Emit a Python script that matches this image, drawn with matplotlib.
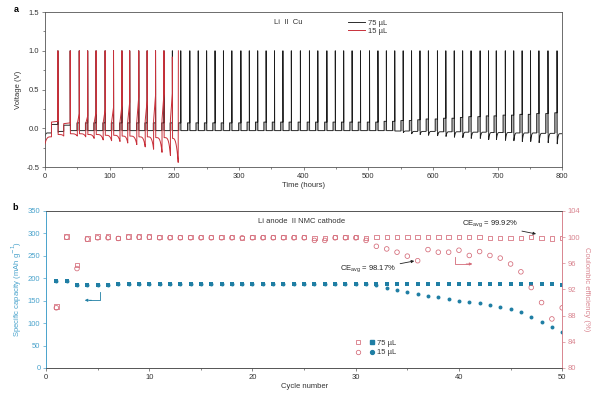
import numpy as np
import matplotlib.pyplot as plt
from matplotlib.lines import Line2D
from matplotlib.legend_handler import HandlerTuple
from matplotlib.ticker import MultipleLocator

plt.rcParams['font.family'] = ['Liberation Sans', 'DejaVu Sans']
plt.rcParams['font.size'] = 5.5
plt.rcParams['axes.linewidth'] = 0.6

# ---------------- panel a : Li || Cu voltage profiles ----------------
# spike (end of stripping) times, hours
t_spike_75 = [20, 39, 53, 66, 79, 93, 106, 119, 131, 145, 158, 171, 184, 197, 210,
              224, 237, 250, 263, 276, 289, 303, 316, 329, 342, 355, 368, 381, 395,
              409, 422, 436, 449, 462, 475, 488, 502, 515, 528, 541, 554, 567, 580,
              593, 607, 620, 633, 646, 659, 673, 686, 698, 712, 725, 738, 751, 764,
              778, 792]
# stripping plateau before each spike (V)
strip_75 = [0.05, 0.04,
            0.07, 0.07, 0.07, 0.07, 0.07, 0.07, 0.07, 0.07, 0.07, 0.07, 0.07, 0.07,
            0.07, 0.07, 0.07, 0.07, 0.07, 0.07, 0.07, 0.07, 0.08, 0.08, 0.08, 0.08,
            0.08, 0.08, 0.08, 0.08, 0.08, 0.08, 0.08, 0.08, 0.08, 0.08, 0.08,
            0.08, 0.09, 0.09, 0.10, 0.10, 0.11, 0.12, 0.12, 0.13, 0.13, 0.14, 0.15,
            0.15, 0.16, 0.16, 0.17, 0.17, 0.18, 0.18, 0.19, 0.19, 0.20]
# plating level of each segment (segment 0 starts at t=0, last one is the tail)
plate_75 = [-0.06, -0.04,
            -0.03, -0.03, -0.03, -0.03, -0.03, -0.03, -0.03, -0.03, -0.03, -0.03,
            -0.03, -0.03, -0.03, -0.03, -0.03, -0.03, -0.03, -0.03, -0.03, -0.03,
            -0.03, -0.03, -0.03, -0.03, -0.03, -0.03, -0.03, -0.03, -0.03, -0.03,
            -0.03, -0.03, -0.03, -0.03, -0.03, -0.03, -0.03, -0.03,
            -0.035, -0.035, -0.04, -0.04, -0.04, -0.045, -0.045, -0.045, -0.05, -0.05,
            -0.05, -0.055, -0.055, -0.055, -0.06, -0.06, -0.06, -0.065, -0.065, -0.07]
# nucleation dip depth at the start of each plating segment (V)
dip_75 = [0.04, 0.01,
          0, 0, 0, 0, 0, 0, 0, 0, 0, 0, 0, 0, 0, 0, 0, 0, 0, 0, 0, 0, 0, 0, 0, 0,
          0, 0, 0, 0, 0, 0, 0, 0, 0, 0, 0, 0, 0, 0, 0,
          0.02, 0.03, 0.04, 0.05, 0.05, 0.06, 0.07, 0.07, 0.08, 0.08, 0.09, 0.09,
          0.10, 0.10, 0.11, 0.11, 0.12, 0.12, 0.13]

t_spike_15 = [20, 39, 53, 66, 79, 93, 106, 119, 131, 145, 158, 171, 184, 197]
peak_15 = [1.0, 1.0, 1.0, 1.0, 1.0, 1.0, 1.0, 1.0, 1.0, 1.0, 1.0, 1.0, 1.0, 0.92]
strip_lo_15 = [0.08, 0.06, 0.06, 0.06, 0.07, 0.07, 0.08, 0.08, 0.09, 0.09, 0.10, 0.10, 0.11, 0.11]
strip_hi_15 = [0.09, 0.07, 0.19, 0.16, 0.21, 0.24, 0.27, 0.30, 0.34, 0.41, 0.36, 0.43, 0.45, 0.45]
plate_start_15 = [-0.20, -0.08, -0.07, -0.07, -0.08, -0.08, -0.09, -0.09, -0.10, -0.10,
                  -0.11, -0.11, -0.12, -0.12, -0.13]
plate_end_15 = [-0.11, -0.10, -0.10, -0.11, -0.13, -0.15, -0.16, -0.17, -0.19, -0.21,
                -0.24, -0.27, -0.31, -0.35, -0.44]
end_15 = 206

# ---------------- panel b : Li || NMC cycling ----------------
cycles = np.arange(1, 51)
cap_75 = [193, 193, 186, 186, 186, 186, 187, 187, 187, 187, 188, 188, 188, 188, 188,
          188, 188, 188, 188, 188, 188, 188, 188, 188, 188, 188, 188, 188, 188, 188,
          188, 188, 188, 188, 188, 188, 188, 188, 188, 188, 188, 187, 187, 187, 187,
          187, 187, 187, 187, 186]
cap_15 = [193, 193, 186, 186, 186, 186, 187, 187, 187, 187, 188, 188, 188, 188, 188,
          188, 188, 188, 188, 188, 188, 188, 188, 188, 188, 188, 188, 188, 188, 188,
          187, 184, 179, 174, 170, 164, 161, 158, 154, 150, 147, 144, 141, 137, 131,
          124, 114, 103, 91, 81]
ce_75 = [89.4, 100.1, 95.7, 99.8, 100.1, 100.1, 99.9, 100.1, 100.1, 100.1, 100.0, 100.0,
         100.0, 100.0, 100.0, 100.0, 100.0, 100.0, 99.9, 100.0, 100.0, 100.0, 100.0, 100.0,
         100.0, 99.9, 99.9, 100.0, 100.0, 100.0, 99.9, 100.0, 100.0, 100.0, 100.0, 100.0,
         100.0, 100.0, 100.0, 100.0, 100.0, 100.0, 99.9, 99.9, 99.9, 99.9, 100.0, 99.9,
         99.8, 99.9]
ce_15 = [89.2, 100.0, 95.2, 99.7, 99.9, 99.9, 99.8, 100.0, 100.0, 100.0, 99.9, 99.9,
         99.9, 99.9, 99.9, 99.9, 99.9, 99.9, 99.9, 99.9, 99.9, 99.9, 99.9, 99.9,
         99.9, 99.5, 99.5, 99.9, 99.9, 99.9, 99.5, 98.6, 98.2, 97.7, 97.1, 96.4,
         98.1, 97.7, 97.7, 98.0, 97.2, 97.8, 97.2, 96.8, 95.9, 94.7, 92.3, 90.0,
         87.5, 89.2]

black = '#1c1c1c'
red = '#c8303a'
blue = '#1f7ea4'
blue_txt = '#4aa3cc'
pink = '#d46a78'
pink_txt = '#d98590'
grey_txt = '#333333'

fig = plt.figure(figsize=(6, 3.94), dpi=100)
ax1 = fig.add_axes([0.075, 0.576, 0.862, 0.3935])
ax2 = fig.add_axes([0.0767, 0.066, 0.8603, 0.3985])

# --- build the 75 uL trace from the per-cycle values
s = np.linspace(0, 1, 12)
bt, bv = [], []
t0 = 0.0
for i, ts in enumerate(t_spike_75):
    w = 10 if i < 2 else 3.5
    tst = ts - w
    p, d = plate_75[i], dip_75[i]
    bt += list(t0 + s * min(4, tst - t0)) + [tst, tst, ts, ts]
    bv += list(p - d * (1 - s) ** 3) + [p, strip_75[i], strip_75[i], 1.0]
    if i >= 2:
        ax1.fill_between([tst, ts], p, strip_75[i], color='#b4b4b4', lw=0, zorder=1)
    t0 = ts + 0.3
p, d = plate_75[-1], dip_75[-1]
bt += list(t0 + s * min(4, 800 - t0)) + [800]
bv += list(p - d * (1 - s) ** 3) + [p]
ax1.plot(bt, bv, color=black, lw=0.65, zorder=2, label='75 µL')

# --- build the 15 uL trace
s2 = np.linspace(0, 1, 30)
rt, rv = [], []
t0 = 0.0
for i, ts in enumerate(t_spike_15):
    w = 10 if i < 2 else 3
    tst = ts - w
    a, b = plate_start_15[i], plate_end_15[i]
    if i == 0:
        seg = b + (a - b) * (1 - s2) ** 4
    else:
        seg = a + (b - a) * s2 ** 4
    rt += list(t0 + s2 * (tst - t0)) + [tst, ts, ts]
    rv += list(seg) + [strip_lo_15[i], strip_hi_15[i], peak_15[i]]
    t0 = ts + 0.3
a, b = plate_start_15[-1], plate_end_15[-1]
rt += list(t0 + s2 * (end_15 - t0)) + [end_15 + 0.3]
rv += list(a + (b - a) * s2 ** 3) + [1.0]
ax1.plot(rt, rv, color=red, lw=0.7, zorder=3, label='15 µL')

ax1.set_xlim(0, 800)
ax1.set_ylim(-0.5, 1.5)
ax1.xaxis.set_major_locator(MultipleLocator(100))
ax1.xaxis.set_minor_locator(MultipleLocator(50))
ax1.yaxis.set_major_locator(MultipleLocator(0.5))
ax1.yaxis.set_minor_locator(MultipleLocator(0.25))
ax1.yaxis.set_major_formatter(plt.FormatStrFormatter('%.1f'))
ax1.tick_params(which='both', direction='out', width=0.5, colors='#555555',
                labelcolor=grey_txt, pad=1.5)
ax1.tick_params(which='major', length=2.5)
ax1.tick_params(which='minor', length=1.5)
ax1.set_xlabel('Time (hours)', color=grey_txt, labelpad=2)
ax1.set_ylabel('Voltage (V)', color=grey_txt, labelpad=3)
for sp in ax1.spines.values():
    sp.set_color('#555555')
ax1.text(0.47, 0.93, 'Li  II  Cu', transform=ax1.transAxes, ha='center', va='center',
         color=grey_txt)
ax1.legend(loc='upper left', bbox_to_anchor=(0.578, 0.975), frameon=False,
           handlelength=2.3, handletextpad=0.4, labelspacing=0.05, borderpad=0,
           labelcolor=grey_txt)

# --- panel b
ax2r = ax2.twinx()
ax2.scatter(cycles, cap_75, marker='s', s=7, color=blue, lw=0, zorder=3)
ax2.scatter(cycles, cap_15, marker='o', s=8, color=blue, lw=0, zorder=3)
ax2r.scatter(cycles, ce_75, marker='s', s=10, facecolors='none', edgecolors=pink, lw=0.55)
ax2r.scatter(cycles, ce_15, marker='o', s=11, facecolors='none', edgecolors=pink, lw=0.55)

ax2.set_xlim(0, 50)
ax2.set_ylim(0, 350)
ax2r.set_ylim(80, 104)
ax2.xaxis.set_major_locator(MultipleLocator(10))
ax2.xaxis.set_minor_locator(MultipleLocator(5))
ax2.yaxis.set_major_locator(MultipleLocator(50))
ax2r.yaxis.set_major_locator(MultipleLocator(4))
ax2.tick_params(which='both', direction='out', width=0.5, pad=1.5)
ax2.tick_params(axis='x', which='major', length=2.5, colors='#555555', labelcolor=grey_txt)
ax2.tick_params(axis='x', which='minor', length=1.5, colors='#555555')
ax2.tick_params(axis='y', length=2.5, colors=blue_txt)
ax2r.tick_params(axis='y', direction='out', length=2.5, width=0.5, pad=1.5, colors=pink_txt)
ax2.set_xlabel('Cycle number', color=grey_txt, labelpad=2)
ax2.set_ylabel('Specific capacity (mAh g$^{-1}$)', color=blue_txt, labelpad=3)
ax2r.set_ylabel('Coulombic efficiency (%)', color=pink_txt, rotation=270, labelpad=7)
for ax in (ax2, ax2r):
    ax.spines['top'].set_color('#555555')
    ax.spines['bottom'].set_color('#555555')
    ax.spines['left'].set_color(blue_txt)
    ax.spines['right'].set_color(pink_txt)

ax2.text(0.411, 0.932, 'Li anode  II NMC cathode', transform=ax2.transAxes,
         ha='left', va='center', color=grey_txt)

# CE annotations
ax2r.annotate('CE$_\\mathregular{avg}$ = 98.17%', xy=(35.8, 96.4), xytext=(33.9, 95.0),
              ha='right', va='center', color='#222222',
              arrowprops=dict(arrowstyle='-|>', color='#222222', lw=0.6,
                              mutation_scale=4, shrinkA=1, shrinkB=1))
ax2r.annotate('CE$_\\mathregular{avg}$ = 99.92%', xy=(47.6, 100.45), xytext=(45.7, 101.9),
              ha='right', va='center', color='#222222',
              arrowprops=dict(arrowstyle='-|>', color='#222222', lw=0.6,
                              mutation_scale=4, shrinkA=1, shrinkB=1))
# bent arrows pointing to each axis
ax2.plot([5.23, 5.23, 4.2], [170, 151, 151], color=blue, lw=0.6)
ax2.annotate('', xy=(3.75, 151), xytext=(4.4, 151),
             arrowprops=dict(arrowstyle='-|>', color=blue, lw=0.6, mutation_scale=4,
                             shrinkA=0, shrinkB=0))
ax2r.plot([39.57, 39.57, 40.9], [97.0, 95.9, 95.9], color=pink, lw=0.6)
ax2r.annotate('', xy=(41.3, 95.9), xytext=(40.7, 95.9),
              arrowprops=dict(arrowstyle='-|>', color=pink, lw=0.6, mutation_scale=4,
                              shrinkA=0, shrinkB=0))

# legend: open CE marker + filled capacity marker per electrolyte volume
h75 = (Line2D([], [], ls='', marker='s', ms=3, mfc='none', mec=pink, mew=0.55),
       Line2D([], [], ls='', marker='s', ms=2.6, color=blue))
h15 = (Line2D([], [], ls='', marker='o', ms=3.2, mfc='none', mec=pink, mew=0.55),
       Line2D([], [], ls='', marker='o', ms=2.8, color=blue))
ax2r.legend([h75, h15], ['75 µL', '15 µL'], handler_map={tuple: HandlerTuple(ndivide=None, pad=1.2)},
            loc='center left', bbox_to_anchor=(0.593, 0.128), frameon=False,
            handlelength=2.4, handletextpad=0.4, labelspacing=0.25, borderpad=0,
            labelcolor=grey_txt)

fig.text(0.023, 0.988, 'a', fontweight='bold', fontsize=6.5, va='top')
fig.text(0.02, 0.486, 'b', fontweight='bold', fontsize=6.5, va='top')

fig.savefig('out.png', dpi=100, facecolor='white')
